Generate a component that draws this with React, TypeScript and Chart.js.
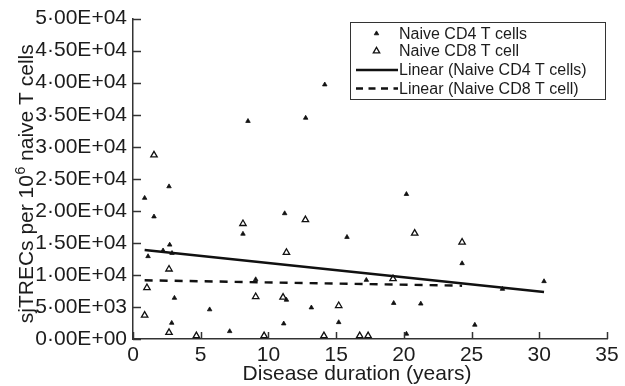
import { useEffect, useRef } from 'react';
import { Chart, registerables } from 'chart.js';

Chart.register(...registerables);

const FONT = '"Liberation Sans", Arial, Helvetica, sans-serif';
const INK = '#1c1c1c';
const AXIS = '#333333';

// Naive CD4 T cells (filled triangles)
const cd4Years = [0.86, 1.55, 2.66, 8.49, 14.16, 12.75, 20.19, 8.12, 11.2, 2.71, 2.22, 2.88, 1.11, 9.06, 3.06, 11.33, 5.66, 2.86, 11.13, 7.14, 15.8, 17.23, 13.17, 19.25, 21.25, 15.19, 20.19, 24.3, 30.35, 27.28, 25.24];
const cd4Trecs = [22000, 19100, 23800, 34000, 39700, 34500, 22600, 16400, 19600, 14700, 13800, 13400, 12900, 9300, 6400, 6100, 4600, 2500, 2400, 1200, 15900, 9200, 4900, 5600, 5500, 2600, 800, 11800, 9000, 7800, 2200];

// Naive CD8 T cell (open triangles)
const cd8Years = [1.55, 8.12, 11.33, 2.66, 1.03, 9.06, 11.08, 0.86, 2.66, 4.68, 9.68, 12.73, 20.8, 19.2, 15.19, 14.1, 16.74, 17.36, 24.3];
const cd8Trecs = [28700, 18000, 13500, 10900, 8000, 6600, 6500, 3700, 1000, 500, 500, 18600, 16500, 9400, 5200, 500, 500, 500, 15100];

// Linear trend lines
const cd4TrendYears = [0.86, 30.35];
const cd4TrendTrecs = [13900, 7340];
const cd8TrendYears = [0.86, 24.3];
const cd8TrendTrecs = [9160, 8320];

const seriesLabels = ['Naive CD4 T cells', 'Naive CD8 T cell', 'Linear (Naive CD4 T cells)', 'Linear (Naive CD8 T cell)'];
const xTitle = 'Disease duration (years)';
const yTitleBefore = 'sjTRECs per 10';
const yTitleSup = '6';
const yTitleAfter = ' naive T cells';

const toPoints = (xs: number[], ys: number[]) => xs.map((x, i) => ({ x, y: ys[i] }));

function sci(v: number): string {
  if (v === 0) return '0·00E+00';
  const e = Math.floor(Math.log10(v) + 1e-9);
  const m = v / Math.pow(10, e);
  return m.toFixed(2).replace('.', '·') + 'E' + (e < 0 ? '-' : '+') + String(Math.abs(e)).padStart(2, '0');
}

function triangle(ctx: CanvasRenderingContext2D, x: number, y: number, r: number) {
  let rad = 0;
  const step = (2 * Math.PI) / 3;
  ctx.beginPath();
  ctx.moveTo(x + Math.sin(rad) * r, y - Math.cos(rad) * r);
  rad += step;
  ctx.lineTo(x + Math.sin(rad) * r, y - Math.cos(rad) * r);
  rad += step;
  ctx.lineTo(x + Math.sin(rad) * r, y - Math.cos(rad) * r);
  ctx.closePath();
}

const decorPlugin = {
  id: 'decor',
  afterDraw(chart: any) {
    const { ctx, chartArea, scales } = chart;
    const ds = chart.data.datasets;
    ctx.save();
    // inward tick marks
    ctx.strokeStyle = AXIS;
    ctx.lineWidth = 1.5;
    scales.y.ticks.forEach((t: any) => {
      const py = Math.round(scales.y.getPixelForValue(t.value)) + 0.5;
      ctx.beginPath();
      ctx.moveTo(chartArea.left, py);
      ctx.lineTo(chartArea.left + 8, py);
      ctx.stroke();
    });
    scales.x.ticks.forEach((t: any) => {
      const px = Math.round(scales.x.getPixelForValue(t.value)) + 0.5;
      ctx.beginPath();
      ctx.moveTo(px, chartArea.bottom);
      ctx.lineTo(px, chartArea.bottom - 7);
      ctx.stroke();
    });

    // axis titles
    ctx.fillStyle = INK;
    ctx.font = '21px ' + FONT;
    ctx.textAlign = 'center';
    ctx.textBaseline = 'alphabetic';
    ctx.fillText(xTitle, 357, 380);

    ctx.save();
    ctx.translate(33, 184);
    ctx.rotate(-Math.PI / 2);
    ctx.textAlign = 'left';
    ctx.font = '21px ' + FONT;
    const w1 = ctx.measureText(yTitleBefore).width;
    const w3 = ctx.measureText(yTitleAfter).width;
    ctx.font = '14px ' + FONT;
    const w2 = ctx.measureText(yTitleSup).width;
    const start = -(w1 + w2 + w3) / 2;
    ctx.font = '21px ' + FONT;
    ctx.fillText(yTitleBefore, start, 0);
    ctx.font = '14px ' + FONT;
    ctx.fillText(yTitleSup, start + w1 + 0.5, -8);
    ctx.font = '21px ' + FONT;
    ctx.fillText(yTitleAfter, start + w1 + w2 + 0.5, 0);
    ctx.restore();

    // legend
    ctx.fillStyle = '#ffffff';
    ctx.fillRect(350, 22, 256, 77);
    ctx.strokeStyle = AXIS;
    ctx.lineWidth = 1;
    ctx.strokeRect(350.5, 22.5, 255, 77);
    const rows = [33.5, 51, 70, 88.5];
    ctx.font = '16px ' + FONT;
    ctx.textAlign = 'left';
    ctx.textBaseline = 'middle';
    ds.forEach((d: any, i: number) => {
      const y = rows[i];
      if (d.type === 'line') {
        ctx.strokeStyle = d.borderColor;
        ctx.lineWidth = d.borderWidth;
        ctx.setLineDash(i === 3 ? [7, 5.5] : []);
        ctx.beginPath();
        ctx.moveTo(356, y);
        ctx.lineTo(398, y);
        ctx.stroke();
        ctx.setLineDash([]);
      } else {
        triangle(ctx, 376.5, y, d.pointRadius);
        ctx.fillStyle = d.pointBackgroundColor;
        ctx.fill();
        ctx.strokeStyle = d.pointBorderColor;
        ctx.lineWidth = d.pointBorderWidth;
        ctx.stroke();
      }
      ctx.fillStyle = INK;
      ctx.fillText(d.label, 399, y + 1);
    });
    ctx.restore();
  },
};

export default function App() {
  const ref = useRef<HTMLCanvasElement>(null);
  useEffect(() => {
    document.body.style.margin = '0';
    const canvas = ref.current;
    if (!canvas) return;
    const chart = new Chart(canvas, {
      type: 'scatter',
      data: {
        datasets: [
          {
            type: 'scatter',
            label: seriesLabels[0],
            data: toPoints(cd4Years, cd4Trecs),
            pointStyle: 'triangle',
            pointRadius: 2.6,
            pointBackgroundColor: '#111111',
            pointBorderColor: '#111111',
            pointBorderWidth: 0.8,
            order: 3,
          },
          {
            type: 'scatter',
            label: seriesLabels[1],
            data: toPoints(cd8Years, cd8Trecs),
            pointStyle: 'triangle',
            pointRadius: 3.7,
            pointBackgroundColor: '#ffffff',
            pointBorderColor: '#111111',
            pointBorderWidth: 1.3,
            order: 4,
          },
          {
            type: 'line',
            label: seriesLabels[2],
            data: toPoints(cd4TrendYears, cd4TrendTrecs),
            borderColor: '#111111',
            borderWidth: 2.5,
            pointRadius: 0,
            showLine: true,
            fill: false,
            order: 1,
          },
          {
            type: 'line',
            label: seriesLabels[3],
            data: toPoints(cd8TrendYears, cd8TrendTrecs),
            borderColor: '#111111',
            borderWidth: 2.4,
            borderDash: [8, 7],
            pointRadius: 0,
            showLine: true,
            fill: false,
            order: 2,
          },
        ] as any,
      },
      options: {
        animation: false,
        responsive: false,
        layout: { padding: { top: 17, right: 18, left: 0, bottom: 0 } },
        plugins: { legend: { display: false }, tooltip: { enabled: false } },
        scales: {
          x: {
            type: 'linear',
            min: 0,
            max: 35,
            grid: { display: false, drawTicks: false },
            border: { display: true, color: AXIS, width: 1.5 },
            ticks: { stepSize: 5, padding: 4, color: INK, font: { family: FONT, size: 21 }, maxRotation: 0 },
            afterFit: (s: any) => { s.height = 47; },
          },
          y: {
            type: 'linear',
            min: 0,
            max: 50000,
            grid: { display: false, drawTicks: false },
            border: { display: true, color: AXIS, width: 1.5 },
            ticks: { stepSize: 5000, padding: 6, color: INK, font: { family: FONT, size: 21 }, callback: (v: any) => sci(Number(v)) },
            afterFit: (s: any) => { s.width = 133; },
          },
        },
      } as any,
      plugins: [decorPlugin],
    });
    return () => chart.destroy();
  }, []);
  return <canvas ref={ref} width={625} height={386} style={{ display: 'block' }} />;
}
